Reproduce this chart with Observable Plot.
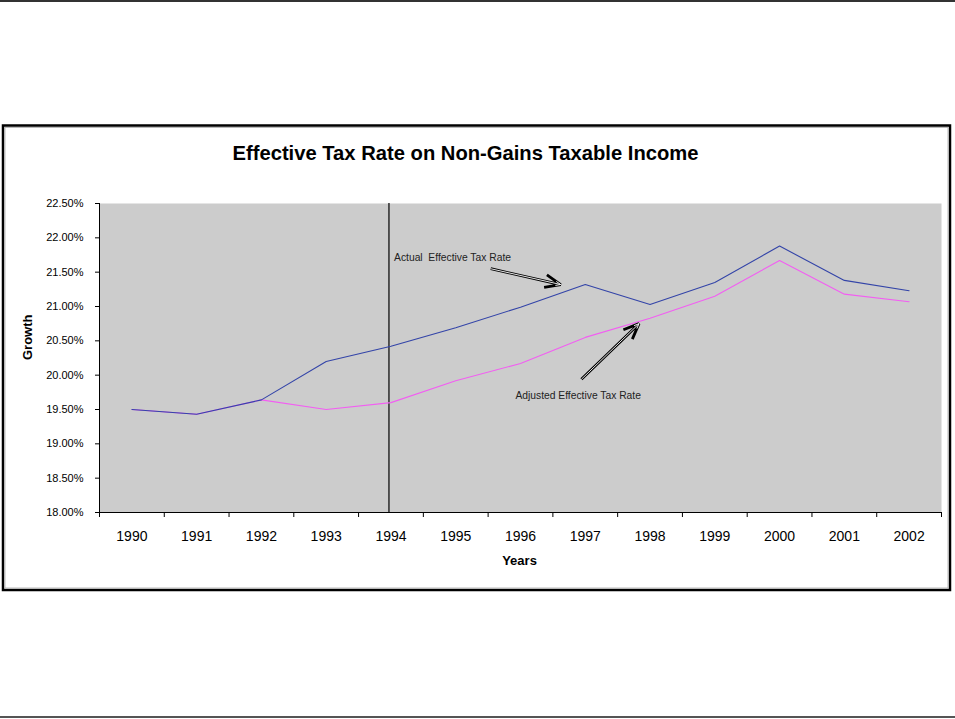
<!DOCTYPE html>
<html>
<head>
<meta charset="utf-8">
<script src="https://cdn.jsdelivr.net/npm/d3@7"></script>
<script src="https://cdn.jsdelivr.net/npm/@observablehq/plot@0.6"></script>
<style>
  html, body { margin: 0; padding: 0; background: white; }
  #chart svg { display: block; }
</style>
</head>
<body>
<div id="chart"></div>
<script>
const years = [1990, 1991, 1992, 1993, 1994, 1995, 1996, 1997, 1998, 1999, 2000, 2001, 2002];
const actualRate = [19.50, 19.43, 19.64, 20.20, 20.42, 20.69, 20.99, 21.32, 21.03, 21.35, 21.88, 21.38, 21.23];
const adjustedRate = [19.50, 19.43, 19.64, 19.50, 19.60, 19.92, 20.17, 20.55, 20.83, 21.15, 21.67, 21.18, 21.07];
const yTicks = [18.0, 18.5, 19.0, 19.5, 20.0, 20.5, 21.0, 21.5, 22.0, 22.5];
const markerYear = [1994];
const titleText = "Effective Tax Rate on Non-Gains Taxable Income";
const xLabel = "Years";
const yLabel = "Growth";
const annotations = [
  {text: "Actual  Effective Tax Rate", x: 1994.95, y: 21.71, x1: 1995.54, y1: 21.55, x2: 1996.62, y2: 21.32},
  {text: "Adjusted Effective Tax Rate", x: 1996.89, y: 19.70, x1: 1996.94, y1: 19.94, x2: 1997.83, y2: 20.75}
];

const actualData = years.map((y, i) => ({year: y, value: actualRate[i]}));
const adjustedData = years.map((y, i) => ({year: y, value: adjustedRate[i]}));
const boundaries = d3.range(1989.5, 2003, 1);

const W = 955, H = 719;
const chart = Plot.plot({
  width: W,
  height: H,
  marginLeft: 99,
  marginRight: 14,
  marginTop: 203,
  marginBottom: 207,
  style: {fontFamily: "'Liberation Sans', Arial, Helvetica, sans-serif", background: "white", color: "black", overflow: "visible"},
  x: {domain: [1989.5, 2002.5]},
  y: {domain: [18, 22.5]},
  marks: [
    Plot.frame({fill: "#CCCCCC", stroke: null}),
    Plot.axisY({ticks: yTicks, tickFormat: d => d.toFixed(2) + "%", tickSize: 4, tickPadding: 12, fontSize: 11, label: null}),
    Plot.axisX({ticks: boundaries, tickFormat: () => "", tickSize: 5, label: null}),
    Plot.axisX({ticks: years, tickFormat: d => String(d), tickSize: 0, tickPadding: 19, fontSize: 14, label: null}),
    Plot.ruleY([18], {stroke: "black"}),
    Plot.ruleX([1989.5], {stroke: "black"}),
    Plot.ruleX(markerYear, {stroke: "black", strokeWidth: 1.2, dx: -2}),
    Plot.line(adjustedData, {x: "year", y: "value", stroke: "#F25EF2", strokeWidth: 1.1}),
    Plot.line(actualData, {x: "year", y: "value", stroke: "#3344A8", strokeWidth: 1.1}),
    Plot.arrow(annotations, {x1: "x1", y1: "y1", x2: "x2", y2: "y2", stroke: "black", strokeWidth: 2.8, headLength: 9, headAngle: 45, strokeLinecap: "butt", strokeLinejoin: "miter"}),
    Plot.arrow(annotations, {x1: "x1", y1: "y1", x2: "x2", y2: "y2", stroke: "white", strokeWidth: 0.9, headLength: 9, headAngle: 45, strokeLinecap: "butt", strokeLinejoin: "miter"}),
    Plot.text(annotations, {x: "x", y: "y", text: "text", fontSize: 10.3, fill: "#222", lineAnchor: "middle"}),
    Plot.text([titleText], {frameAnchor: "top", dx: -55, dy: -50, fontSize: 20.2, fontWeight: "bold", lineAnchor: "middle"}),
    Plot.text([xLabel], {frameAnchor: "bottom", dx: -1, dy: 48, fontSize: 13, fontWeight: "bold", lineAnchor: "middle"}),
    Plot.text([yLabel], {frameAnchor: "left", dx: -72, dy: 2, rotate: -90, fontSize: 13, fontWeight: "bold", lineAnchor: "middle"})
  ]
});

const svg = d3.select(chart);
// page rules
svg.append("line").attr("x1", 0).attr("x2", W).attr("y1", 1).attr("y2", 1).attr("stroke", "#333").attr("stroke-width", 2);
svg.append("line").attr("x1", 0).attr("x2", W).attr("y1", 717).attr("y2", 717).attr("stroke", "#555").attr("stroke-width", 2);
// chart border
svg.append("rect").attr("x", 3).attr("y", 125.5).attr("width", 947).attr("height", 464.5)
  .attr("fill", "none").attr("stroke", "black").attr("stroke-width", 2.5);
svg.append("rect").attr("x", 5).attr("y", 127.5).attr("width", 943).attr("height", 460.5)
  .attr("fill", "none").attr("stroke", "#aaa").attr("stroke-width", 0.8);

document.getElementById("chart").appendChild(chart);
</script>
</body>
</html>
